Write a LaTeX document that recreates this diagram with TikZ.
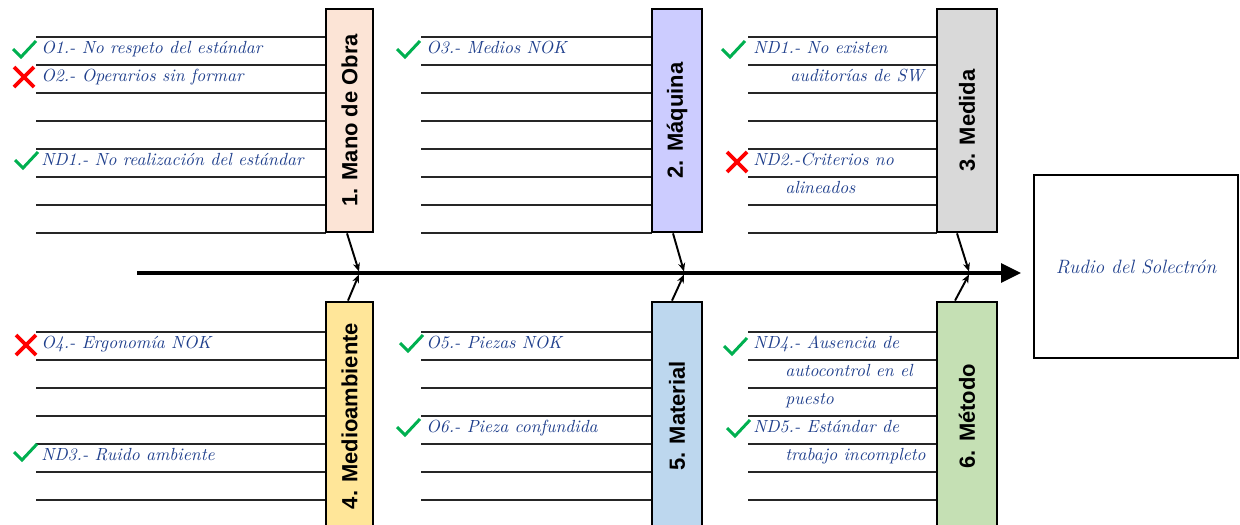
\documentclass[tikz,border=0pt]{standalone}
\usepackage{fontspec}
\newfontfamily\catfont{Liberation Sans}
\usetikzlibrary{arrows.meta,calc}
\definecolor{manocol}{HTML}{FCE4D6}
\definecolor{maqcol}{HTML}{CCCCFF}
\definecolor{medcol}{HTML}{D9D9D9}
\definecolor{ambcol}{HTML}{FFE699}
\definecolor{matcol}{HTML}{BDD7EE}
\definecolor{metcol}{HTML}{C5E0B4}
\definecolor{causeblue}{HTML}{1F3F8C}
\definecolor{okgreen}{HTML}{00B050}
\definecolor{nored}{HTML}{FF0000}
\begin{document}
\begin{tikzpicture}[x=0.02cm,y=-0.02cm,
  catbox/.style={draw=black, line width=1.6pt, inner sep=0pt,
    font=\catfont\bfseries\fontsize{12.5}{13}\selectfont},
  rule/.style={draw=black!85, line width=0.8pt},
  cause/.style={anchor=base west, inner sep=0pt, text=causeblue,
    font=\fontsize{10}{12}\selectfont\itshape\addfontfeatures{FakeBold=0.4}},
  spine/.style={line width=1.8pt, -{Triangle[length=0.4cm,width=0.38cm]}},
  branch/.style={line width=1.1pt, -{Stealth[length=0.17cm,width=0.14cm]}},
  okmark/.pic={\draw[okgreen, line width=1.7pt] (-11,0) -- (-3,8) -- (12,-8);},
  nomark/.pic={\draw[nored, line width=2.2pt] (-10,-10) -- (10,10) (-10,10) -- (10,-10);},
]
\useasboundingbox (0,0) rectangle (1240,524);
\clip (0,0) rectangle (1240,524);

% writing lines of each category
\foreach \y in {37,65,...,233} {
  \draw[rule] (36,\y) -- (326,\y);
  \draw[rule] (421,\y) -- (652,\y);
  \draw[rule] (748,\y) -- (937,\y);
}
\foreach \y in {332,360,...,528} {
  \draw[rule] (36,\y) -- (326,\y);
  \draw[rule] (421,\y) -- (652,\y);
  \draw[rule] (748,\y) -- (937,\y);
}

% category boxes
\node[catbox, fill=manocol, minimum width=0.94cm, minimum height=4.46cm] (mano) at (349.5,120.5) {\rotatebox{90}{1. Mano de Obra}};
\node[catbox, fill=maqcol, minimum width=1.0cm, minimum height=4.46cm] (maq) at (677,120.5) {\rotatebox{90}{2. Máquina}};
\node[catbox, fill=medcol, minimum width=1.2cm, minimum height=4.46cm] (med) at (967,120.5) {\rotatebox{90}{3. Medida}};
\node[catbox, fill=ambcol, minimum width=0.94cm, minimum height=4.56cm] (amb) at (349.5,416) {\rotatebox{90}{4. Medioambiente}};
\node[catbox, fill=matcol, minimum width=1.0cm, minimum height=4.56cm] (mat) at (677,416) {\rotatebox{90}{5. Material}};
\node[catbox, fill=metcol, minimum width=1.2cm, minimum height=4.56cm] (met) at (967,416) {\rotatebox{90}{6. Método}};

% effect
\node[draw, line width=1.5pt, minimum width=4.08cm, minimum height=3.66cm, text=causeblue,
  font=\fontsize{11}{13}\selectfont\itshape\addfontfeatures{FakeBold=0.4}] (efecto) at (1136,266.5) {Rudio del Solectrón};

% spine and branches
\coordinate (tail) at (137,273);
\coordinate (head) at (1021,273);
\coordinate (j1) at (359,273);
\coordinate (j2) at (684,273);
\coordinate (j3) at (969,273);
\draw[spine] (tail) -- (head);
\draw[branch] ($(mano.south)+(-2.5,0)$) -- ($(j1)+(0,-1.5)$);
\draw[branch] ($(maq.south)+(-4,0)$) -- ($(j2)+(0,-1.5)$);
\draw[branch] ($(med.south)+(-10,0)$) -- ($(j3)+(0,-1.5)$);
\draw[branch] ($(amb.north)+(-1.5,0)$) -- ($(j1)+(0,1.5)$);
\draw[branch] ($(mat.north)+(-5,0)$) -- ($(j2)+(0,1.5)$);
\draw[branch] ($(met.north)+(-12,0)$) -- ($(j3)+(0,1.5)$);

% causes
\node[cause] (o1) at (41,53) {O1.- No respeto del estándar};
\node[cause] (o2) at (41,81) {O2.- Operarios sin formar};
\node[cause] (nd1) at (41,165) {ND1.- No realización del estándar};
\node[cause] (o3) at (426,53) {O3.- Medios NOK};
\node[cause] (nd1b) at (753,53) {ND1.- No existen};
\node[cause] (nd1c) at (790,81) {auditorías de SW};
\node[cause] (nd2) at (753,165) {ND2.-Criterios no};
\node[cause] (nd2b) at (785,193) {alineados};
\node[cause] (o4) at (41,348) {O4.- Ergonomía NOK};
\node[cause] (nd3) at (41,460) {ND3.- Ruido ambiente};
\node[cause] (o5) at (426,348) {O5.- Piezas NOK};
\node[cause] (o6) at (426,432) {O6.- Pieza confundida};
\node[cause] (nd4) at (753,348) {ND4.- Ausencia de};
\node[cause] (nd4b) at (785,376) {autocontrol en el};
\node[cause] (nd4c) at (785,404) {puesto};
\node[cause] (nd5) at (753,432) {ND5.- Estándar de};
\node[cause] (nd5b) at (785,460) {trabajo incompleto};

% status marks
\pic at (24,49) {okmark};
\pic at (24,77) {nomark};
\pic at (26,160) {okmark};
\pic at (408,49) {okmark};
\pic at (733,49) {okmark};
\pic at (737,162) {nomark};
\pic at (26,345) {nomark};
\pic at (25,452) {okmark};
\pic at (411,343) {okmark};
\pic at (408,427) {okmark};
\pic at (735,346) {okmark};
\pic at (738,428) {okmark};
\end{tikzpicture}
\end{document}
